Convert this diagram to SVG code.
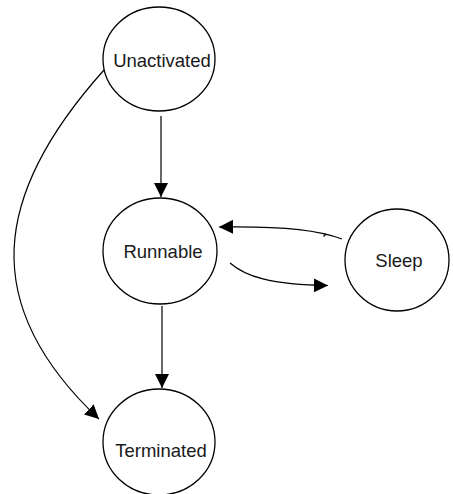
<svg xmlns="http://www.w3.org/2000/svg" width="453" height="494" viewBox="0 0 453 494">
<style>
.node ellipse{fill:#fff;stroke:#000;stroke-width:1.3}
.node text{font-family:"Liberation Sans",Arial,sans-serif;font-size:18.5px;fill:#1a1a1a;text-anchor:middle}
.edge{fill:none;stroke:#000;stroke-width:1.2}
</style>
<defs>
<marker id="ah" markerUnits="userSpaceOnUse" markerWidth="15" markerHeight="15" refX="14" refY="7" orient="auto">
<path d="M0,0 L14,7 L0,14 z" fill="#000"/>
</marker>
</defs>
<rect width="453" height="494" fill="#fff"/>
<g id="connectors">
<path class="edge" d="M161,116 L161,197" marker-end="url(#ah)"/>
<path class="edge" d="M162,306 L162,388" marker-end="url(#ah)"/>
<path class="edge" d="M104,70 C-8,195 -22,305 99,419" marker-end="url(#ah)"/>
<path class="edge" d="M342,239 C320,231 290,226 219,227" marker-end="url(#ah)"/>
<path class="edge" d="M323.5,236.5 L326,234"/>
<path class="edge" d="M230,263 C245,276 270,285 328,285.5" marker-end="url(#ah)"/>
</g>
<g id="unactivated" class="node">
<ellipse cx="159" cy="59" rx="56" ry="52"/>
<text x="162" y="67">Unactivated</text>
</g>
<g id="runnable" class="node">
<ellipse cx="160" cy="251" rx="57" ry="53"/>
<text x="163" y="258">Runnable</text>
</g>
<g id="sleep" class="node">
<ellipse cx="397" cy="260" rx="52" ry="51"/>
<text x="399" y="267">Sleep</text>
</g>
<g id="terminated" class="node">
<ellipse cx="159" cy="442" rx="56" ry="53"/>
<text x="161" y="457">Terminated</text>
</g>
</svg>
